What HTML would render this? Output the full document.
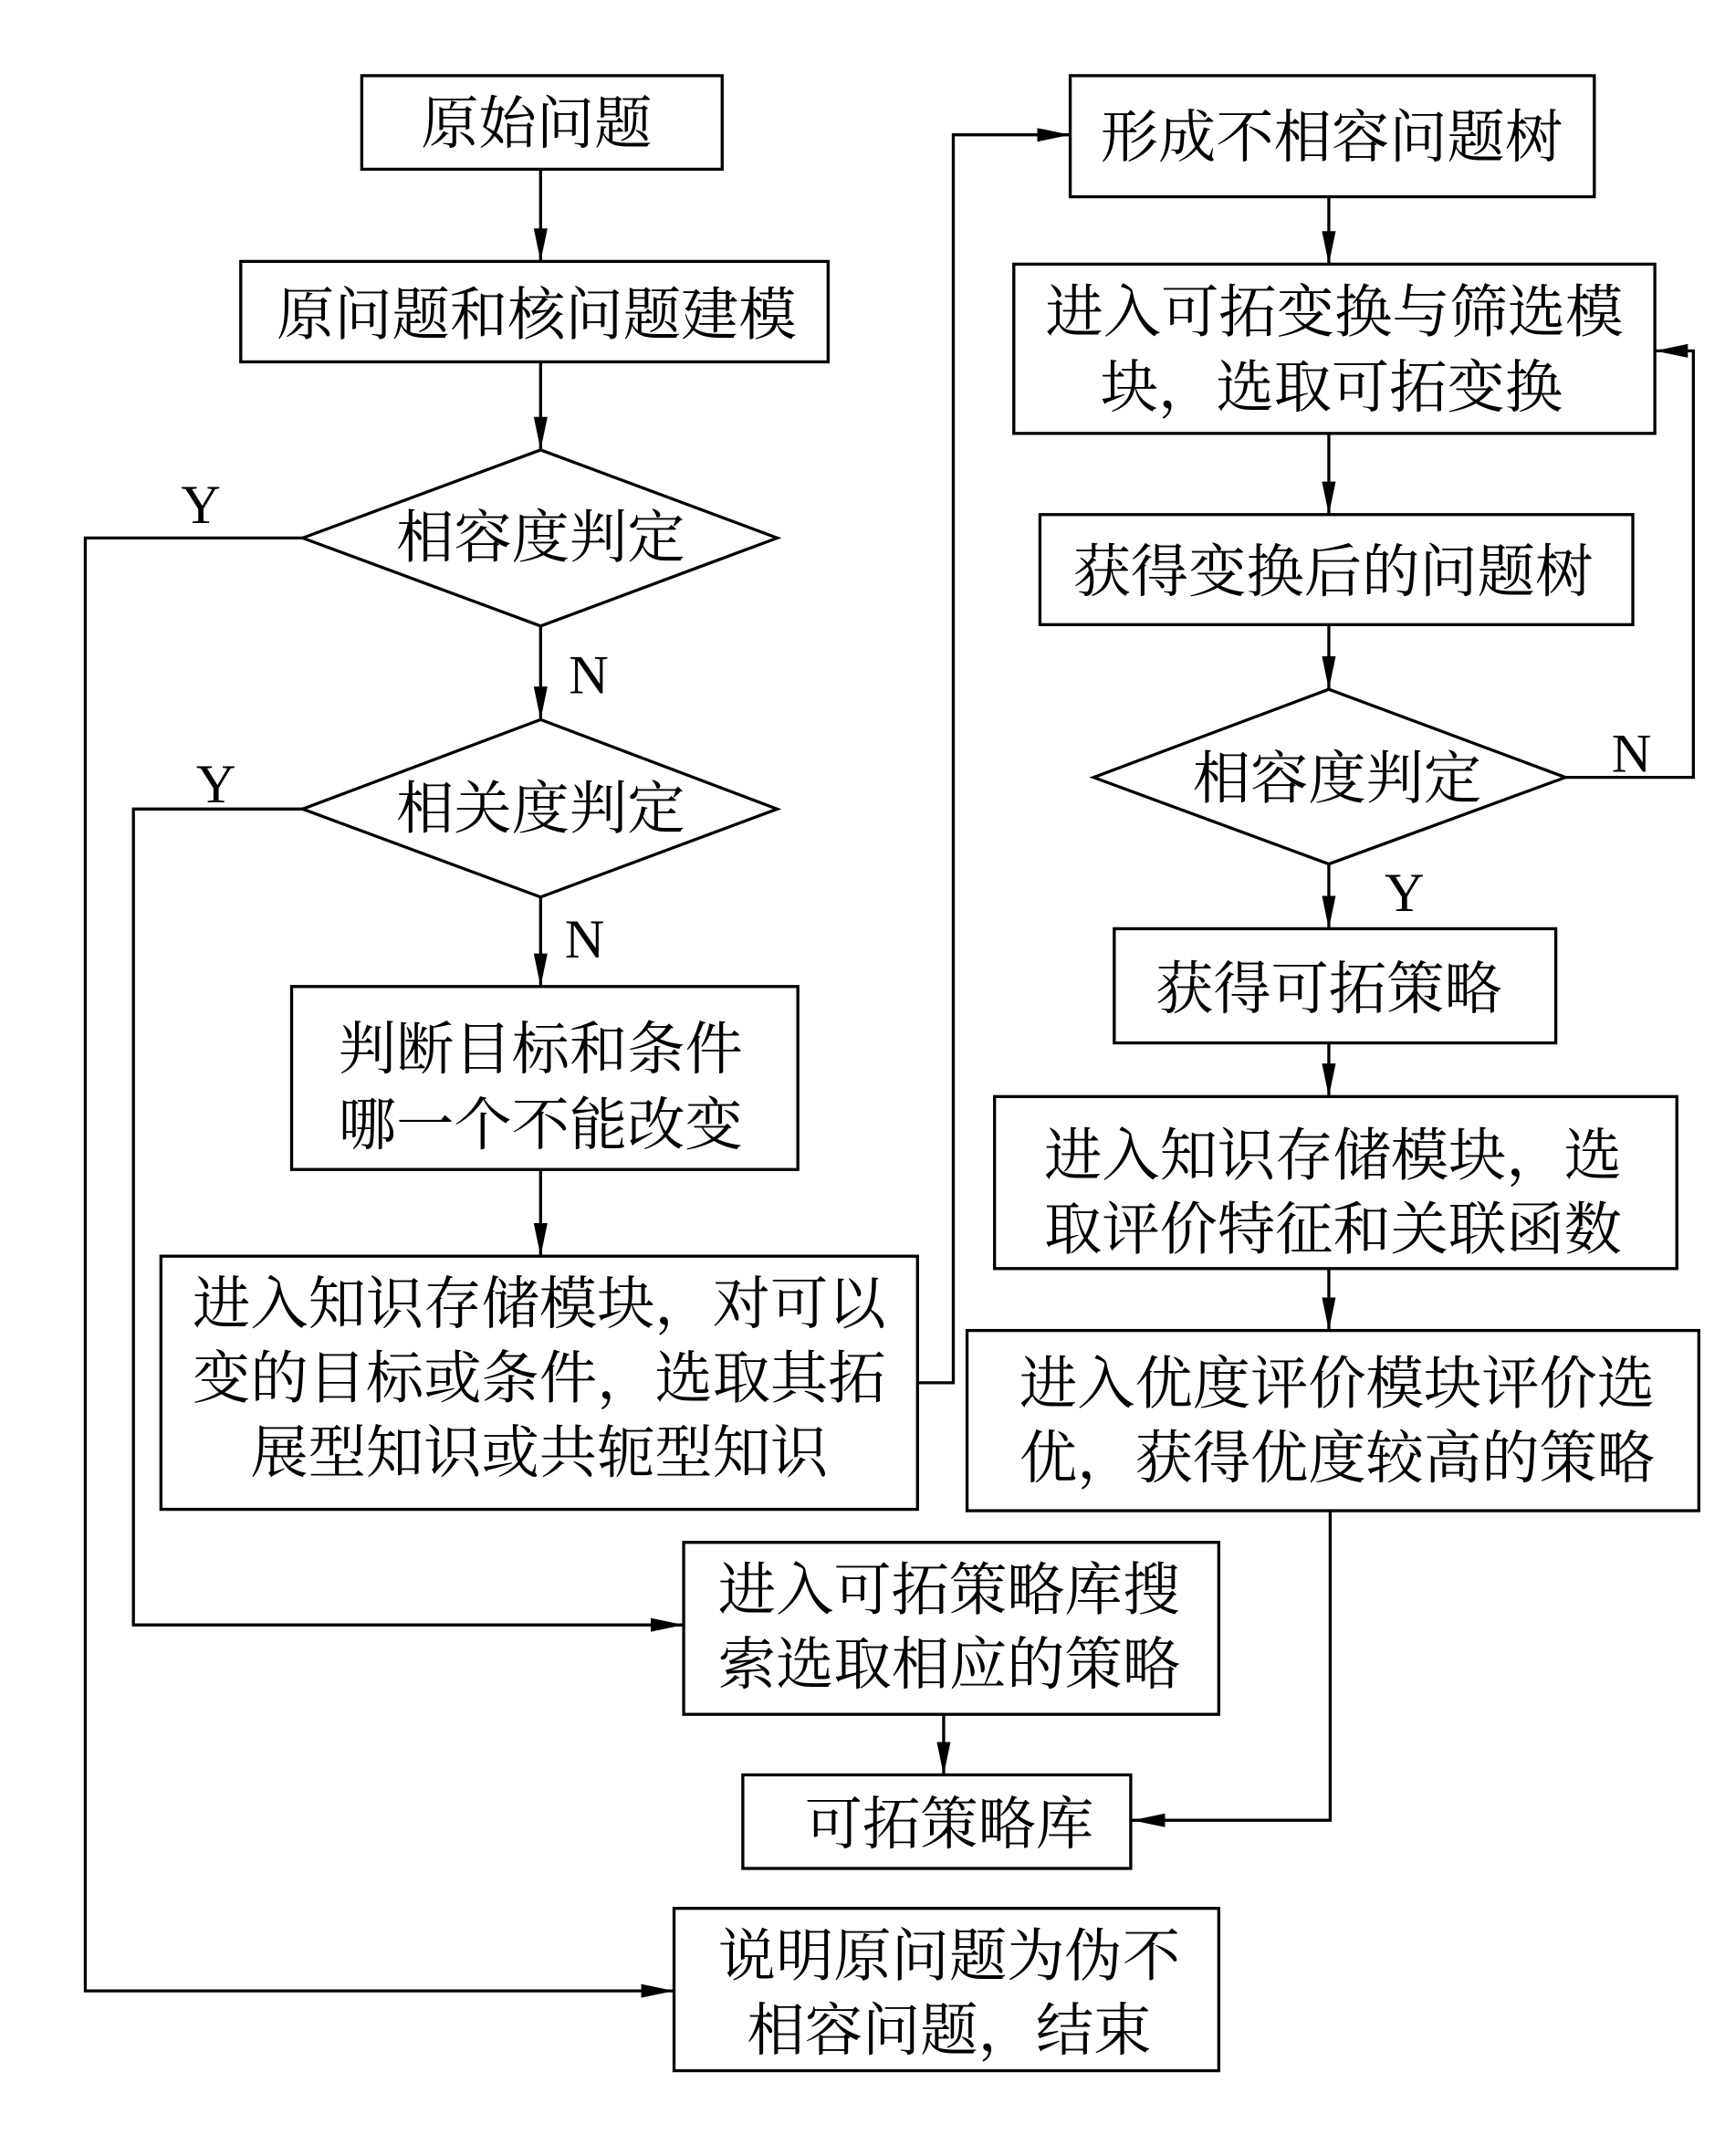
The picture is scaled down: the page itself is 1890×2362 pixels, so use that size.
<!DOCTYPE html>
<html><head><meta charset="utf-8"><style>
html,body{margin:0;padding:0;background:#fff;}
svg{display:block;}
text{font-family:"Liberation Serif","Noto Serif CJK SC",serif;font-size:42px;fill:#000;text-anchor:middle;}
.l{font-family:"Liberation Serif",serif;font-size:40px;}
</style></head><body>
<svg width="1890" height="2362" viewBox="0 0 1254 1567" preserveAspectRatio="none" xmlns="http://www.w3.org/2000/svg">
<defs><marker id="a" markerWidth="24" markerHeight="10" refX="24" refY="5" orient="auto" markerUnits="userSpaceOnUse"><path d="M0,0 L24,5 L0,10 Z" fill="#000"/></marker></defs>
<g fill="none" stroke="#000" stroke-width="2.2">
<rect x="263" y="55" width="262" height="68"/>
<rect x="175" y="190" width="427" height="73"/>
<polygon points="220,391 393,327 565,391 393,455"/>
<polygon points="220,588 393,523 565,588 393,652"/>
<rect x="212" y="717" width="368" height="133"/>
<rect x="117" y="913" width="550" height="184"/>
<rect x="778" y="55" width="381" height="88"/>
<rect x="737" y="192" width="466" height="123"/>
<rect x="756" y="374" width="431" height="80"/>
<polygon points="795,565 966,501 1138,565 966,628"/>
<rect x="810" y="675" width="321" height="83"/>
<rect x="723" y="797" width="496" height="125"/>
<rect x="703" y="967" width="532" height="131"/>
<rect x="497" y="1121" width="389" height="125"/>
<rect x="540" y="1290" width="282" height="68"/>
<rect x="490" y="1387" width="396" height="118"/>
<g marker-end="url(#a)">
<path d="M393,123 V190"/><path d="M393,263 V327"/><path d="M393,455 V523"/><path d="M393,652 V717"/><path d="M393,850 V913"/>
<path d="M220,391 H62 V1447 H490"/>
<path d="M220,588 H97 V1181 H497"/>
<path d="M667,1005 H693 V98 H778"/>
<path d="M966,143 V192"/><path d="M966,315 V374"/><path d="M966,454 V501"/><path d="M966,628 V675"/><path d="M966,758 V797"/><path d="M966,922 V967"/>
<path d="M1138,565 H1231 V255 H1203"/>
<path d="M967,1098 V1323 H823"/>
<path d="M686,1246 V1290"/>
</g></g>
<text x="390" y="104">原始问题</text>
<text x="390" y="243">原问题和核问题建模</text>
<text x="393" y="405">相容度判定</text>
<text x="393" y="602">相关度判定</text>
<text x="393" y="777">判断目标和条件</text>
<text x="393" y="832">哪一个不能改变</text>
<text x="392" y="962">进入知识存储模块，对可以</text>
<text x="392" y="1016">变的目标或条件，选取其拓</text>
<text x="392" y="1070">展型知识或共轭型知识</text>
<text x="968" y="114">形成不相容问题树</text>
<text x="970" y="241">进入可拓变换与筛选模</text>
<text x="968" y="296">块，选取可拓变换</text>
<text x="969" y="430">获得变换后的问题树</text>
<text x="972" y="580">相容度判定</text>
<text x="966" y="733">获得可拓策略</text>
<text x="969" y="854">进入知识存储模块，选</text>
<text x="969" y="908">取评价特征和关联函数</text>
<text x="972" y="1020">进入优度评价模块评价选</text>
<text x="972" y="1074">优，获得优度较高的策略</text>
<text x="690" y="1170">进入可拓策略库搜</text>
<text x="690" y="1224">索选取相应的策略</text>
<text x="690" y="1340">可拓策略库</text>
<text x="690" y="1436">说明原问题为伪不</text>
<text x="690" y="1490">相容问题，结束</text>
<text class="l" x="146" y="380">Y</text>
<text class="l" x="157" y="583">Y</text>
<text class="l" x="428" y="504">N</text>
<text class="l" x="425" y="696">N</text>
<text class="l" x="1186" y="561">N</text>
<text class="l" x="1021" y="662">Y</text>
</svg>
</body></html>
